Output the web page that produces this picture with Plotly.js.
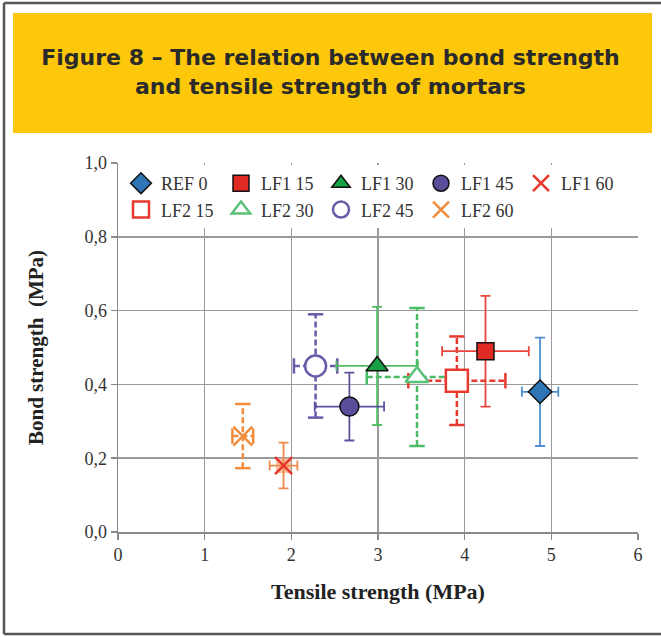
<!DOCTYPE html>
<html>
<head>
<meta charset="utf-8">
<script src="https://cdn.plot.ly/plotly-3.0.1.min.js"></script>
<style>html,body{margin:0;padding:0;background:#fff;}#chart{width:661px;height:637px;}</style>
</head>
<body>
<div id="chart"></div>
<script>
// ---- data ----
const seriesNames = ['REF 0','LF1 15','LF1 30','LF1 45','LF1 60','LF2 15','LF2 30','LF2 45','LF2 60'];
const tensile     = [4.87, 4.24, 2.99, 2.67, 1.91, 3.91, 3.45, 2.28, 1.44];
const tensileErr  = [0.21, 0.50, 0.47, 0.40, 0.16, 0.56, 0.58, 0.25, 0.12];
const bond        = [0.38, 0.49, 0.45, 0.34, 0.18, 0.41, 0.42, 0.45, 0.26];
const bondErr     = [0.147, 0.15, 0.16, 0.092, 0.062, 0.12, 0.187, 0.14, 0.087];
const xTickVals   = [0, 1, 2, 3, 4, 5, 6];
const yTickVals   = [0, 0.2, 0.4, 0.6, 0.8, 1.0];

// ---- styles ----
const styles = [
  {symbol:'diamond',        size:18, fill:'#2f74b5', line:'#111', lw:1.5, err:'#4f8fd0', dashed:false},
  {symbol:'square',         size:17, fill:'#e02a24', line:'#111', lw:1.5, err:'#e8473c', dashed:false},
  {symbol:'triangle-up',    size:19, fill:'#17a145', line:'#111', lw:1.5, err:'#52bd63', dashed:false},
  {symbol:'circle',         size:19, fill:'#5a4e9c', line:'#111', lw:1.5, err:'#5e529f', dashed:false},
  {symbol:'x-thin-open',    size:17, fill:'#e8362c', line:'#e8362c', lw:2.5, err:'#ee8a4a', dashed:false, under:'#f7b08a'},
  {symbol:'square',         size:22, fill:'#ffffff', line:'#e8392f', lw:2.5, err:'#e8392f', dashed:true},
  {symbol:'triangle-up',    size:20, fill:'#ffffff', line:'#5cc07a', lw:2.5, err:'#4cbb65', dashed:true},
  {symbol:'circle',         size:21, fill:'#ffffff', line:'#6a5aa8', lw:2.5, err:'#6a5aa8', dashed:true},
  {symbol:'x-thin-open',    size:19, fill:'#f08c3c', line:'#f08c3c', lw:2.5, err:'#f08c3c', dashed:true}
];

const traces = [];
// dashed error bars drawn as line traces (behind markers)
seriesNames.forEach((n, i) => {
  const s = styles[i];
  if (!s.dashed) return;
  const t = tensile[i], b = bond[i], et = tensileErr[i], eb = bondErr[i];
  traces.push({
    type:'scatter', mode:'lines+markers', showlegend:false, hoverinfo:'skip',
    x:[t-et, t+et, null, t, t],
    y:[b, b, null, b-eb, b+eb],
    line:{color:s.err, width:2.5, dash:'6px,3px'},
    marker:{symbol:['line-ns-open','line-ns-open','line-ns-open','line-ew-open','line-ew-open'], size:11, line:{color:s.err, width:2.5}},
    connectgaps:false, cliponaxis:false
  });
});
// soft square under LF1 60 star
seriesNames.forEach((n, i) => {
  const s = styles[i];
  if (!s.under) return;
  traces.push({
    type:'scatter', mode:'markers', showlegend:false, hoverinfo:'skip',
    x:[tensile[i]], y:[bond[i]],
    marker:{symbol:'square', size:15, color:s.under, opacity:0.8, line:{width:0}}
  });
});
// main markers (with solid error bars)
seriesNames.forEach((n, i) => {
  const s = styles[i];
  const tr = {
    type:'scatter', mode:'markers', name:n,
    x:[tensile[i]], y:[bond[i]],
    marker:{symbol:s.symbol, size:s.size, color:s.fill, line:{color:s.line, width:s.lw}},
    cliponaxis:false
  };
  if (!s.dashed) {
    tr.error_x = {type:'data', array:[tensileErr[i]], visible:true, color:s.err, thickness:1.8, width:5};
    tr.error_y = {type:'data', array:[bondErr[i]], visible:true, color:s.err, thickness:1.8, width:5};
  }
  traces.push(tr);
});

// pixel -> paper helpers for decorative frame
const L = 118, R = 638, T = 163, B = 532;
const px = v => (v - L) / (R - L);
const py = v => (B - v) / (B - T);

const layout = {
  width:661, height:637,
  margin:{l:L, r:661-R, t:T, b:637-B},
  paper_bgcolor:'#ffffff', plot_bgcolor:'#ffffff',
  separators:',.',
  showlegend:true,
  title:{
    text:'<b>Figure 8 – The relation between bond strength<br>and tensile strength of mortars</b>',
    font:{family:'DejaVu Sans, sans-serif', size:22, color:'#2a2a2a'},
    x:0.5, xref:'container', xanchor:'center',
    y:1-65/637, yref:'container', yanchor:'middle'
  },
  xaxis:{
    range:[0,6], tickvals:xTickVals, tickformat:'d',
    showgrid:true, gridcolor:'#9a9a9a', gridwidth:1.5,
    showline:true, linecolor:'#8a8a8a', linewidth:1.5,
    ticks:'outside', ticklen:6, tickcolor:'#8a8a8a', tickwidth:1.5,
    zeroline:false,
    tickfont:{family:'Liberation Serif, serif', size:18, color:'#333'},
    title:{text:'<b>Tensile strength (MPa)</b>', font:{family:'Liberation Serif, serif', size:22, color:'#222'}, standoff:19},
    automargin:false
  },
  yaxis:{
    range:[0,1], tickvals:yTickVals, tickformat:'.1f',
    showgrid:true, gridcolor:'#9a9a9a', gridwidth:1.5,
    showline:true, linecolor:'#8a8a8a', linewidth:1.5,
    ticks:'outside', ticklen:6, tickcolor:'#8a8a8a', tickwidth:1.5,
    zeroline:false,
    tickfont:{family:'Liberation Serif, serif', size:18, color:'#333'},
    title:{text:'<b>Bond strength  (MPa)</b>', font:{family:'Liberation Serif, serif', size:21, color:'#222'}, standoff:35},
    automargin:false
  },
  legend:{
    orientation:'h', x:px(121), xanchor:'left', y:py(165), yanchor:'top',
    bgcolor:'#ffffff', borderwidth:0,
    entrywidth:55, entrywidthmode:'pixels', itemwidth:30,
    font:{family:'Liberation Serif, serif', size:18, color:'#333'},
    traceorder:'normal'
  },
  shapes:[
    {type:'rect', xref:'paper', yref:'paper', x0:px(13), x1:px(652), y0:py(133), y1:py(13),
     fillcolor:'#fdc80a', line:{width:0}, layer:'below'},
    {type:'line', xref:'paper', yref:'paper', x0:px(4), x1:px(4), y0:py(634), y1:py(3), line:{color:'#555', width:2.5}},
    {type:'line', xref:'paper', yref:'paper', x0:px(4), x1:px(661), y0:py(3), y1:py(3), line:{color:'#555', width:2.5}},
    {type:'line', xref:'paper', yref:'paper', x0:px(4), x1:px(661), y0:py(634), y1:py(634), line:{color:'#555', width:2.5}}
  ]
};

Plotly.newPlot('chart', traces, layout, {displayModeBar:false, staticPlot:true});
</script>
</body>
</html>
